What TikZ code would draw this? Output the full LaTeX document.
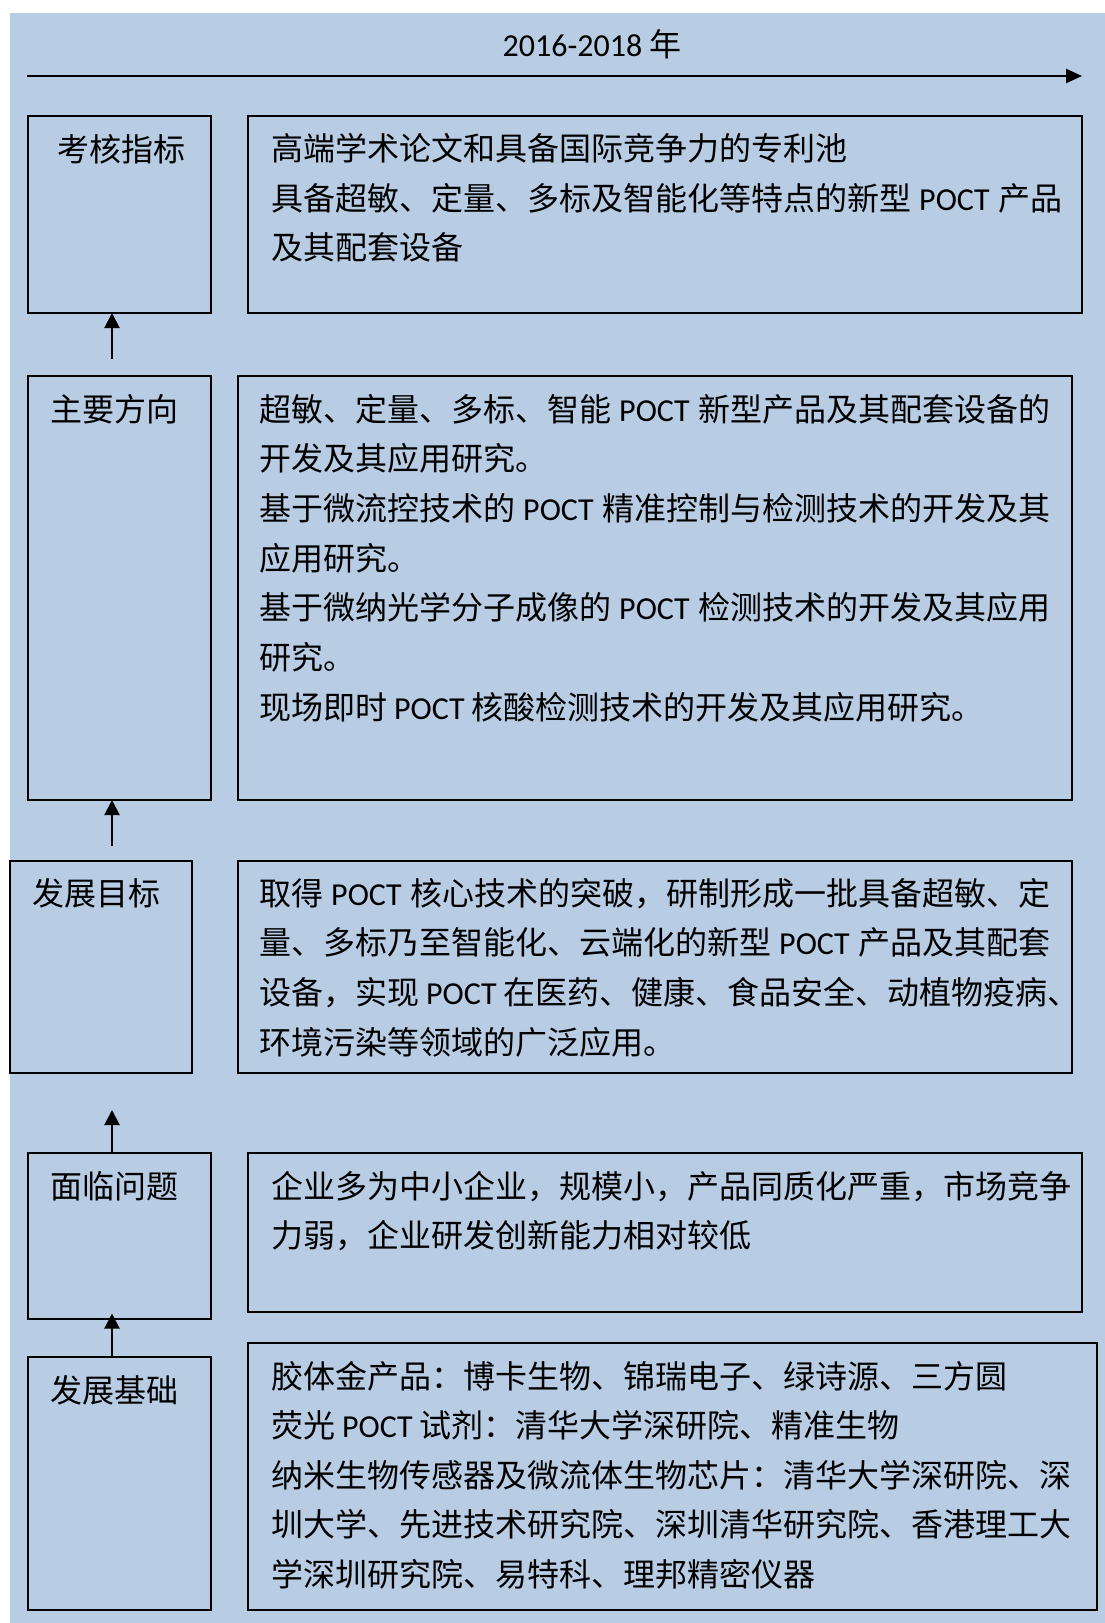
\documentclass[tikz,border=0pt]{standalone}
\usepackage{fontspec}
\setmainfont{Noto Sans CJK SC}
\newfontfamily\lf{Carlito}
\usetikzlibrary{arrows.meta}
\XeTeXlinebreaklocale "zh"
\XeTeXlinebreakskip=0pt plus 2pt
\definecolor{bgblue}{RGB}{184,204,228}
\newcommand\jl[2]{\hbox to #1pt{#2}}
\tikzset{
  panel/.style={draw=black, line width=1.6pt, anchor=north west, inner sep=0pt, outer sep=0pt},
  txt/.style={anchor=base west, inner sep=0pt, outer sep=0pt, font=\fontsize{32}{40}\selectfont, text=black},
  upar/.style={line width=2pt, -{Triangle[length=15pt,width=15pt]}},
  timear/.style={line width=2.2pt, -{Triangle[length=16pt,width=14pt]}},
}
\begin{document}
\begin{tikzpicture}[x=1pt,y=-1pt]
\useasboundingbox (0,0) rectangle (1105,1623);
\fill[bgblue] (10,13) rectangle (1105,1623);

% timeline
\node[txt, anchor=base] (title) at (592,56.5) {{\lf 2016-2018} 年};
\coordinate (t0) at (27,76);
\coordinate (t1) at (1082,76);
\draw[timear] (t0) -- (t1);

% panels
\node[panel, minimum width=183pt, minimum height=197pt] (kL) at (28,116) {};
\node[panel, minimum width=834pt, minimum height=197pt] (kR) at (248,116) {};
\node[panel, minimum width=183pt, minimum height=424pt] (zL) at (28,376) {};
\node[panel, minimum width=834pt, minimum height=424pt] (zR) at (238,376) {};
\node[panel, minimum width=182pt, minimum height=212pt] (fL) at (10,861) {};
\node[panel, minimum width=834pt, minimum height=212pt] (fR) at (238,861) {};
\node[panel, minimum width=183pt, minimum height=166pt] (mL) at (28,1153) {};
\node[panel, minimum width=834pt, minimum height=159pt] (mR) at (248,1153) {};
\node[panel, minimum width=183pt, minimum height=253pt] (jL) at (28,1357) {};
\node[panel, minimum width=849pt, minimum height=267pt] (jR) at (248,1343) {};

% arrows
\coordinate (a1) at (112,359);
\draw[upar] (a1) -- (a1 |- kL.south);
\coordinate (a2) at (112,846);
\draw[upar] (a2) -- (a2 |- zL.south);
\coordinate (a3) at (112,1110);
\draw[upar] (a3 |- mL.north) -- (a3);
\coordinate (a4) at (112,1313.5);
\draw[upar] (a4 |- jL.north) -- (a4);

% labels
\node[txt] (kLt) at (57,161) {考核指标};
\node[txt] (zLt) at (50,421.5) {主要方向};
\node[txt] (fLt) at (32,905) {发展目标};
\node[txt] (mLt) at (50,1198) {面临问题};
\node[txt] (jLt) at (50,1402) {发展基础};

% box 1
\node[txt] (k1) at (271,160.5) {高端学术论文和具备国际竞争力的专利池};
\node[txt] (k2) at (271,210.2) {\jl{791}{具备超敏、定量、多标及智能化等特点的新型 {\lf POCT} 产品}};
\node[txt] (k3) at (271,259.9) {及其配套设备};

% box 2
\node[txt] (z1) at (259,421) {\jl{791}{超敏、定量、多标、智能 {\lf POCT} 新型产品及其配套设备的}};
\node[txt] (z2) at (259,470.7) {开发及其应用研究。};
\node[txt] (z3) at (259,520.4) {\jl{791}{基于微流控技术的 {\lf POCT} 精准控制与检测技术的开发及其}};
\node[txt] (z4) at (259,570.1) {应用研究。};
\node[txt] (z5) at (259,619.8) {\jl{791}{基于微纳光学分子成像的 {\lf POCT} 检测技术的开发及其应用}};
\node[txt] (z6) at (259,669.5) {研究。};
\node[txt] (z7) at (259,719.2) {现场即时 {\lf POCT} 核酸检测技术的开发及其应用研究。};

% box 3
\node[txt] (f1) at (259,905) {\jl{791}{取得 {\lf POCT} 核心技术的突破，研制形成一批具备超敏、定}};
\node[txt] (f2) at (259,954.7) {\jl{791}{量、多标乃至智能化、云端化的新型 {\lf POCT} 产品及其配套}};
\node[txt] (f3) at (259,1004.4) {设备，实现 {\lf POCT} 在医药、健康、食品安全、动植物疫病、};
\node[txt] (f4) at (259,1054.1) {环境污染等领域的广泛应用。};

% box 4
\node[txt] (m1) at (271,1198) {企业多为中小企业，规模小，产品同质化严重，市场竞争};
\node[txt] (m2) at (271,1247.7) {力弱，企业研发创新能力相对较低};

% box 5
\node[txt] (j1) at (271,1388) {胶体金产品：博卡生物、锦瑞电子、绿诗源、三方圆};
\node[txt] (j2) at (271,1437.5) {荧光 {\lf POCT} 试剂：清华大学深研院、精准生物};
\node[txt] (j3) at (271,1487) {\jl{807}{纳米生物传感器及微流体生物芯片：清华大学深研院、深}};
\node[txt] (j4) at (271,1536.5) {\jl{807}{圳大学、先进技术研究院、深圳清华研究院、香港理工大}};
\node[txt] (j5) at (271,1586) {学深圳研究院、易特科、理邦精密仪器};
\end{tikzpicture}
\end{document}
